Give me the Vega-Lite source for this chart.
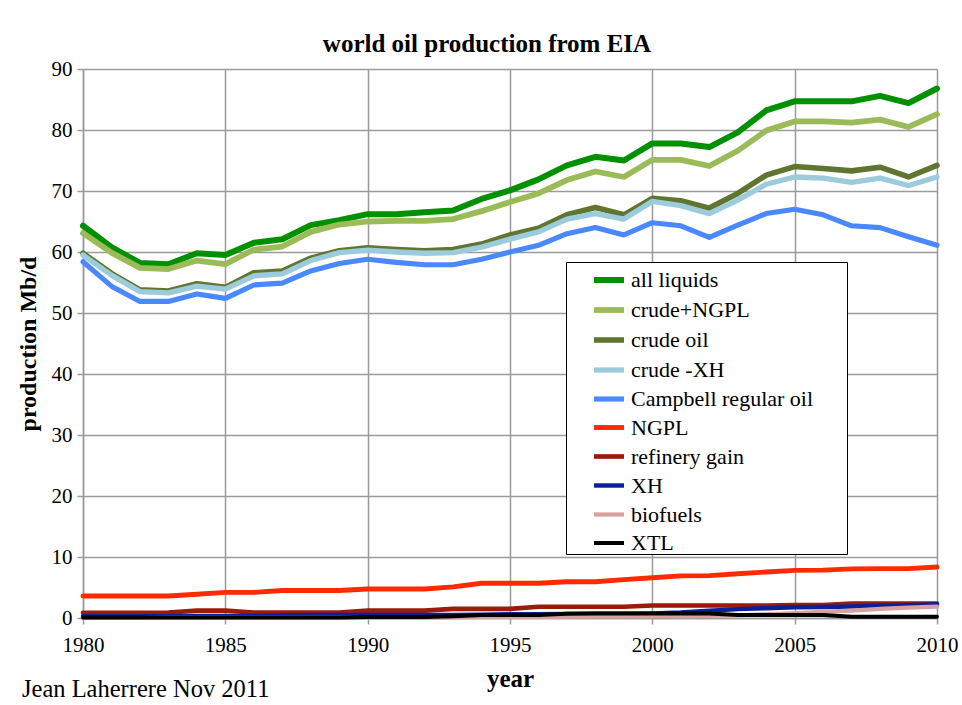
{
  "$schema": "https://vega.github.io/schema/vega-lite/v6.json",
  "width": 854,
  "height": 549,
  "autosize": {"type": "none"},
  "padding": {"left": 83, "top": 69, "right": 25, "bottom": 87},
  "background": "white",
  "title": {"text": "world oil production from EIA", "font": "Liberation Serif", "fontSize": 25, "fontWeight": "bold", "color": "black", "offset": 1, "dx": -23},
  "config": {"view": {"stroke": null}, "font": "Liberation Serif"},
  "datasets": {
    "oil": [
      {"year":1980,"series":"all liquids","value":64.3},{"year":1981,"series":"all liquids","value":60.8},{"year":1982,"series":"all liquids","value":58.2},{"year":1983,"series":"all liquids","value":58.0},{"year":1984,"series":"all liquids","value":59.8},{"year":1985,"series":"all liquids","value":59.5},{"year":1986,"series":"all liquids","value":61.5},{"year":1987,"series":"all liquids","value":62.1},{"year":1988,"series":"all liquids","value":64.4},{"year":1989,"series":"all liquids","value":65.2},{"year":1990,"series":"all liquids","value":66.2},{"year":1991,"series":"all liquids","value":66.2},{"year":1992,"series":"all liquids","value":66.5},{"year":1993,"series":"all liquids","value":66.8},{"year":1994,"series":"all liquids","value":68.7},{"year":1995,"series":"all liquids","value":70.1},{"year":1996,"series":"all liquids","value":71.9},{"year":1997,"series":"all liquids","value":74.2},{"year":1998,"series":"all liquids","value":75.6},{"year":1999,"series":"all liquids","value":75.0},{"year":2000,"series":"all liquids","value":77.8},{"year":2001,"series":"all liquids","value":77.8},{"year":2002,"series":"all liquids","value":77.2},{"year":2003,"series":"all liquids","value":79.6},{"year":2004,"series":"all liquids","value":83.2},{"year":2005,"series":"all liquids","value":84.7},{"year":2006,"series":"all liquids","value":84.7},{"year":2007,"series":"all liquids","value":84.7},{"year":2008,"series":"all liquids","value":85.6},{"year":2009,"series":"all liquids","value":84.4},{"year":2010,"series":"all liquids","value":86.8},
      {"year":1980,"series":"crude+NGPL","value":63.1},{"year":1981,"series":"crude+NGPL","value":59.9},{"year":1982,"series":"crude+NGPL","value":57.4},{"year":1983,"series":"crude+NGPL","value":57.2},{"year":1984,"series":"crude+NGPL","value":58.6},{"year":1985,"series":"crude+NGPL","value":58.0},{"year":1986,"series":"crude+NGPL","value":60.4},{"year":1987,"series":"crude+NGPL","value":60.9},{"year":1988,"series":"crude+NGPL","value":63.3},{"year":1989,"series":"crude+NGPL","value":64.5},{"year":1990,"series":"crude+NGPL","value":65.0},{"year":1991,"series":"crude+NGPL","value":65.1},{"year":1992,"series":"crude+NGPL","value":65.1},{"year":1993,"series":"crude+NGPL","value":65.4},{"year":1994,"series":"crude+NGPL","value":66.7},{"year":1995,"series":"crude+NGPL","value":68.2},{"year":1996,"series":"crude+NGPL","value":69.6},{"year":1997,"series":"crude+NGPL","value":71.8},{"year":1998,"series":"crude+NGPL","value":73.2},{"year":1999,"series":"crude+NGPL","value":72.3},{"year":2000,"series":"crude+NGPL","value":75.1},{"year":2001,"series":"crude+NGPL","value":75.1},{"year":2002,"series":"crude+NGPL","value":74.1},{"year":2003,"series":"crude+NGPL","value":76.6},{"year":2004,"series":"crude+NGPL","value":79.9},{"year":2005,"series":"crude+NGPL","value":81.4},{"year":2006,"series":"crude+NGPL","value":81.4},{"year":2007,"series":"crude+NGPL","value":81.2},{"year":2008,"series":"crude+NGPL","value":81.7},{"year":2009,"series":"crude+NGPL","value":80.5},{"year":2010,"series":"crude+NGPL","value":82.6},
      {"year":1980,"series":"crude oil","value":59.8},{"year":1981,"series":"crude oil","value":56.5},{"year":1982,"series":"crude oil","value":53.8},{"year":1983,"series":"crude oil","value":53.6},{"year":1984,"series":"crude oil","value":54.8},{"year":1985,"series":"crude oil","value":54.2},{"year":1986,"series":"crude oil","value":56.6},{"year":1987,"series":"crude oil","value":56.9},{"year":1988,"series":"crude oil","value":59.0},{"year":1989,"series":"crude oil","value":60.2},{"year":1990,"series":"crude oil","value":60.7},{"year":1991,"series":"crude oil","value":60.4},{"year":1992,"series":"crude oil","value":60.2},{"year":1993,"series":"crude oil","value":60.4},{"year":1994,"series":"crude oil","value":61.3},{"year":1995,"series":"crude oil","value":62.8},{"year":1996,"series":"crude oil","value":63.9},{"year":1997,"series":"crude oil","value":66.1},{"year":1998,"series":"crude oil","value":67.3},{"year":1999,"series":"crude oil","value":66.1},{"year":2000,"series":"crude oil","value":68.8},{"year":2001,"series":"crude oil","value":68.4},{"year":2002,"series":"crude oil","value":67.2},{"year":2003,"series":"crude oil","value":69.6},{"year":2004,"series":"crude oil","value":72.6},{"year":2005,"series":"crude oil","value":74.0},{"year":2006,"series":"crude oil","value":73.7},{"year":2007,"series":"crude oil","value":73.3},{"year":2008,"series":"crude oil","value":73.9},{"year":2009,"series":"crude oil","value":72.3},{"year":2010,"series":"crude oil","value":74.2},
      {"year":1980,"series":"crude -XH","value":59.5},{"year":1981,"series":"crude -XH","value":56.2},{"year":1982,"series":"crude -XH","value":53.5},{"year":1983,"series":"crude -XH","value":53.3},{"year":1984,"series":"crude -XH","value":54.4},{"year":1985,"series":"crude -XH","value":53.9},{"year":1986,"series":"crude -XH","value":56.1},{"year":1987,"series":"crude -XH","value":56.4},{"year":1988,"series":"crude -XH","value":58.6},{"year":1989,"series":"crude -XH","value":59.9},{"year":1990,"series":"crude -XH","value":60.3},{"year":1991,"series":"crude -XH","value":60.0},{"year":1992,"series":"crude -XH","value":59.8},{"year":1993,"series":"crude -XH","value":59.9},{"year":1994,"series":"crude -XH","value":60.8},{"year":1995,"series":"crude -XH","value":62.1},{"year":1996,"series":"crude -XH","value":63.3},{"year":1997,"series":"crude -XH","value":65.4},{"year":1998,"series":"crude -XH","value":66.3},{"year":1999,"series":"crude -XH","value":65.4},{"year":2000,"series":"crude -XH","value":68.3},{"year":2001,"series":"crude -XH","value":67.6},{"year":2002,"series":"crude -XH","value":66.3},{"year":2003,"series":"crude -XH","value":68.5},{"year":2004,"series":"crude -XH","value":71.1},{"year":2005,"series":"crude -XH","value":72.3},{"year":2006,"series":"crude -XH","value":72.1},{"year":2007,"series":"crude -XH","value":71.4},{"year":2008,"series":"crude -XH","value":72.1},{"year":2009,"series":"crude -XH","value":70.9},{"year":2010,"series":"crude -XH","value":72.3},
      {"year":1980,"series":"Campbell regular oil","value":58.4},{"year":1981,"series":"Campbell regular oil","value":54.4},{"year":1982,"series":"Campbell regular oil","value":51.9},{"year":1983,"series":"Campbell regular oil","value":51.9},{"year":1984,"series":"Campbell regular oil","value":53.1},{"year":1985,"series":"Campbell regular oil","value":52.4},{"year":1986,"series":"Campbell regular oil","value":54.6},{"year":1987,"series":"Campbell regular oil","value":54.9},{"year":1988,"series":"Campbell regular oil","value":56.9},{"year":1989,"series":"Campbell regular oil","value":58.1},{"year":1990,"series":"Campbell regular oil","value":58.8},{"year":1991,"series":"Campbell regular oil","value":58.3},{"year":1992,"series":"Campbell regular oil","value":57.9},{"year":1993,"series":"Campbell regular oil","value":57.9},{"year":1994,"series":"Campbell regular oil","value":58.8},{"year":1995,"series":"Campbell regular oil","value":60.0},{"year":1996,"series":"Campbell regular oil","value":61.1},{"year":1997,"series":"Campbell regular oil","value":63.0},{"year":1998,"series":"Campbell regular oil","value":64.0},{"year":1999,"series":"Campbell regular oil","value":62.8},{"year":2000,"series":"Campbell regular oil","value":64.8},{"year":2001,"series":"Campbell regular oil","value":64.3},{"year":2002,"series":"Campbell regular oil","value":62.4},{"year":2003,"series":"Campbell regular oil","value":64.4},{"year":2004,"series":"Campbell regular oil","value":66.3},{"year":2005,"series":"Campbell regular oil","value":67.0},{"year":2006,"series":"Campbell regular oil","value":66.1},{"year":2007,"series":"Campbell regular oil","value":64.3},{"year":2008,"series":"Campbell regular oil","value":64.0},{"year":2009,"series":"Campbell regular oil","value":62.5},{"year":2010,"series":"Campbell regular oil","value":61.1},
      {"year":1980,"series":"NGPL","value":3.6},{"year":1981,"series":"NGPL","value":3.6},{"year":1982,"series":"NGPL","value":3.6},{"year":1983,"series":"NGPL","value":3.6},{"year":1984,"series":"NGPL","value":3.9},{"year":1985,"series":"NGPL","value":4.2},{"year":1986,"series":"NGPL","value":4.2},{"year":1987,"series":"NGPL","value":4.5},{"year":1988,"series":"NGPL","value":4.5},{"year":1989,"series":"NGPL","value":4.5},{"year":1990,"series":"NGPL","value":4.75},{"year":1991,"series":"NGPL","value":4.75},{"year":1992,"series":"NGPL","value":4.75},{"year":1993,"series":"NGPL","value":5.1},{"year":1994,"series":"NGPL","value":5.7},{"year":1995,"series":"NGPL","value":5.7},{"year":1996,"series":"NGPL","value":5.7},{"year":1997,"series":"NGPL","value":5.95},{"year":1998,"series":"NGPL","value":5.95},{"year":1999,"series":"NGPL","value":6.3},{"year":2000,"series":"NGPL","value":6.6},{"year":2001,"series":"NGPL","value":6.9},{"year":2002,"series":"NGPL","value":6.95},{"year":2003,"series":"NGPL","value":7.25},{"year":2004,"series":"NGPL","value":7.55},{"year":2005,"series":"NGPL","value":7.8},{"year":2006,"series":"NGPL","value":7.85},{"year":2007,"series":"NGPL","value":8.05},{"year":2008,"series":"NGPL","value":8.1},{"year":2009,"series":"NGPL","value":8.1},{"year":2010,"series":"NGPL","value":8.35},
      {"year":1980,"series":"refinery gain","value":0.85},{"year":1981,"series":"refinery gain","value":0.85},{"year":1982,"series":"refinery gain","value":0.85},{"year":1983,"series":"refinery gain","value":0.9},{"year":1984,"series":"refinery gain","value":1.2},{"year":1985,"series":"refinery gain","value":1.2},{"year":1986,"series":"refinery gain","value":0.9},{"year":1987,"series":"refinery gain","value":0.9},{"year":1988,"series":"refinery gain","value":0.9},{"year":1989,"series":"refinery gain","value":0.9},{"year":1990,"series":"refinery gain","value":1.2},{"year":1991,"series":"refinery gain","value":1.2},{"year":1992,"series":"refinery gain","value":1.2},{"year":1993,"series":"refinery gain","value":1.5},{"year":1994,"series":"refinery gain","value":1.5},{"year":1995,"series":"refinery gain","value":1.5},{"year":1996,"series":"refinery gain","value":1.85},{"year":1997,"series":"refinery gain","value":1.85},{"year":1998,"series":"refinery gain","value":1.85},{"year":1999,"series":"refinery gain","value":1.85},{"year":2000,"series":"refinery gain","value":2.05},{"year":2001,"series":"refinery gain","value":2.05},{"year":2002,"series":"refinery gain","value":2.05},{"year":2003,"series":"refinery gain","value":2.05},{"year":2004,"series":"refinery gain","value":2.05},{"year":2005,"series":"refinery gain","value":2.1},{"year":2006,"series":"refinery gain","value":2.1},{"year":2007,"series":"refinery gain","value":2.35},{"year":2008,"series":"refinery gain","value":2.35},{"year":2009,"series":"refinery gain","value":2.35},{"year":2010,"series":"refinery gain","value":2.35},
      {"year":1980,"series":"XH","value":0.3},{"year":1981,"series":"XH","value":0.3},{"year":1982,"series":"XH","value":0.3},{"year":1983,"series":"XH","value":0.3},{"year":1984,"series":"XH","value":0.35},{"year":1985,"series":"XH","value":0.35},{"year":1986,"series":"XH","value":0.35},{"year":1987,"series":"XH","value":0.4},{"year":1988,"series":"XH","value":0.5},{"year":1989,"series":"XH","value":0.5},{"year":1990,"series":"XH","value":0.5},{"year":1991,"series":"XH","value":0.5},{"year":1992,"series":"XH","value":0.5},{"year":1993,"series":"XH","value":0.5},{"year":1994,"series":"XH","value":0.55},{"year":1995,"series":"XH","value":0.6},{"year":1996,"series":"XH","value":0.6},{"year":1997,"series":"XH","value":0.65},{"year":1998,"series":"XH","value":0.7},{"year":1999,"series":"XH","value":0.7},{"year":2000,"series":"XH","value":0.75},{"year":2001,"series":"XH","value":0.9},{"year":2002,"series":"XH","value":1.2},{"year":2003,"series":"XH","value":1.45},{"year":2004,"series":"XH","value":1.6},{"year":2005,"series":"XH","value":1.75},{"year":2006,"series":"XH","value":1.8},{"year":2007,"series":"XH","value":1.9},{"year":2008,"series":"XH","value":2.0},{"year":2009,"series":"XH","value":2.1},{"year":2010,"series":"XH","value":2.25},
      {"year":1980,"series":"biofuels","value":0.0},{"year":1981,"series":"biofuels","value":0.0},{"year":1982,"series":"biofuels","value":0.0},{"year":1983,"series":"biofuels","value":0.05},{"year":1984,"series":"biofuels","value":0.05},{"year":1985,"series":"biofuels","value":0.05},{"year":1986,"series":"biofuels","value":0.05},{"year":1987,"series":"biofuels","value":0.05},{"year":1988,"series":"biofuels","value":0.05},{"year":1989,"series":"biofuels","value":0.05},{"year":1990,"series":"biofuels","value":0.05},{"year":1991,"series":"biofuels","value":0.05},{"year":1992,"series":"biofuels","value":0.05},{"year":1993,"series":"biofuels","value":0.1},{"year":1994,"series":"biofuels","value":0.2},{"year":1995,"series":"biofuels","value":0.2},{"year":1996,"series":"biofuels","value":0.2},{"year":1997,"series":"biofuels","value":0.2},{"year":1998,"series":"biofuels","value":0.25},{"year":1999,"series":"biofuels","value":0.25},{"year":2000,"series":"biofuels","value":0.3},{"year":2001,"series":"biofuels","value":0.3},{"year":2002,"series":"biofuels","value":0.35},{"year":2003,"series":"biofuels","value":0.45},{"year":2004,"series":"biofuels","value":0.6},{"year":2005,"series":"biofuels","value":0.8},{"year":2006,"series":"biofuels","value":1.0},{"year":2007,"series":"biofuels","value":1.2},{"year":2008,"series":"biofuels","value":1.5},{"year":2009,"series":"biofuels","value":1.7},{"year":2010,"series":"biofuels","value":1.85},
      {"year":1980,"series":"XTL","value":0.1},{"year":1981,"series":"XTL","value":0.1},{"year":1982,"series":"XTL","value":0.1},{"year":1983,"series":"XTL","value":0.1},{"year":1984,"series":"XTL","value":0.1},{"year":1985,"series":"XTL","value":0.1},{"year":1986,"series":"XTL","value":0.1},{"year":1987,"series":"XTL","value":0.1},{"year":1988,"series":"XTL","value":0.1},{"year":1989,"series":"XTL","value":0.1},{"year":1990,"series":"XTL","value":0.15},{"year":1991,"series":"XTL","value":0.15},{"year":1992,"series":"XTL","value":0.15},{"year":1993,"series":"XTL","value":0.3},{"year":1994,"series":"XTL","value":0.5},{"year":1995,"series":"XTL","value":0.5},{"year":1996,"series":"XTL","value":0.5},{"year":1997,"series":"XTL","value":0.7},{"year":1998,"series":"XTL","value":0.75},{"year":1999,"series":"XTL","value":0.75},{"year":2000,"series":"XTL","value":0.75},{"year":2001,"series":"XTL","value":0.75},{"year":2002,"series":"XTL","value":0.75},{"year":2003,"series":"XTL","value":0.5},{"year":2004,"series":"XTL","value":0.5},{"year":2005,"series":"XTL","value":0.5},{"year":2006,"series":"XTL","value":0.5},{"year":2007,"series":"XTL","value":0.2},{"year":2008,"series":"XTL","value":0.2},{"year":2009,"series":"XTL","value":0.2},{"year":2010,"series":"XTL","value":0.2}
    ],
    "note": [{"label": "Jean Laherrere Nov 2011"}]
  },
  "layer": [
    {
      "data": {"name": "oil"},
      "mark": {"type": "line", "strokeJoin": "round", "strokeCap": "round"},
      "encoding": {
        "x": {
          "field": "year", "type": "quantitative",
          "scale": {"domain": [1980, 2010], "nice": false, "zero": false},
          "axis": {"title": "year", "values": [1980, 1985, 1990, 1995, 2000, 2005, 2010], "format": "d", "labelFlush": false,
            "grid": true, "gridColor": "#9a9a9a", "gridWidth": 1.5, "domainColor": "#9a9a9a", "domainWidth": 1.5,
            "tickColor": "#9a9a9a", "tickSize": 6, "tickWidth": 1.5,
            "labelFont": "Liberation Serif", "labelFontSize": 21, "labelColor": "black", "labelPadding": 10,
            "titleFont": "Liberation Serif", "titleFontSize": 25, "titleFontWeight": "bold", "titleColor": "black", "titlePadding": 11}
        },
        "y": {
          "field": "value", "type": "quantitative",
          "scale": {"domain": [0, 90], "nice": false},
          "axis": {"title": "production Mb/d", "values": [0, 10, 20, 30, 40, 50, 60, 70, 80, 90],
            "grid": true, "gridColor": "#9a9a9a", "gridWidth": 1.5, "domainColor": "#9a9a9a", "domainWidth": 1.5,
            "tickColor": "#9a9a9a", "tickSize": 6, "tickWidth": 1.5,
            "labelFont": "Liberation Serif", "labelFontSize": 21, "labelColor": "black", "labelPadding": 5,
            "titleFont": "Liberation Serif", "titleFontSize": 24, "titleFontWeight": "bold", "titleColor": "black", "titlePadding": 11}
        },
        "color": {
          "field": "series", "type": "nominal",
          "scale": {
            "domain": ["all liquids", "crude+NGPL", "crude oil", "crude -XH", "Campbell regular oil", "NGPL", "refinery gain", "XH", "biofuels", "XTL"],
            "range": ["#009000", "#9bbb59", "#5f7530", "#9ccbdc", "#4a88ff", "#ff2a00", "#9b1b0b", "#0a1f9a", "#d9a0a0", "#000000"]
          },
          "legend": {
            "title": null, "orient": "none", "legendX": 483, "legendY": 193,
            "symbolType": "stroke", "symbolSize": 900, "symbolStrokeWidth": 5, "symbolOffset": 25,
            "labelFont": "Liberation Serif", "labelFontSize": 22, "labelColor": "black", "labelOffset": 4, "labelLimit": 400,
            "labelExpr": "datum.label + '\u00a0\u00a0\u00a0\u00a0\u00a0\u00a0\u200b'",
            "strokeColor": "black", "fillColor": "white", "padding": 0, "rowPadding": 0
          }
        },
        "strokeWidth": {
          "field": "series", "type": "nominal",
          "scale": {
            "domain": ["all liquids", "crude+NGPL", "crude oil", "crude -XH", "Campbell regular oil", "NGPL", "refinery gain", "XH", "biofuels", "XTL"],
            "range": [6, 4, 4, 4, 4, 4, 4, 4, 4, 4]
          },
          "legend": null
        }
      }
    },
    {
      "data": {"name": "note"},
      "mark": {"type": "text", "align": "left", "baseline": "middle", "dx": -61, "dy": 72, "font": "Liberation Serif", "fontSize": 24.5, "color": "black"},
      "encoding": {
        "x": {"datum": 1980, "type": "quantitative"},
        "y": {"datum": 0, "type": "quantitative"},
        "text": {"field": "label"}
      }
    }
  ]
}
